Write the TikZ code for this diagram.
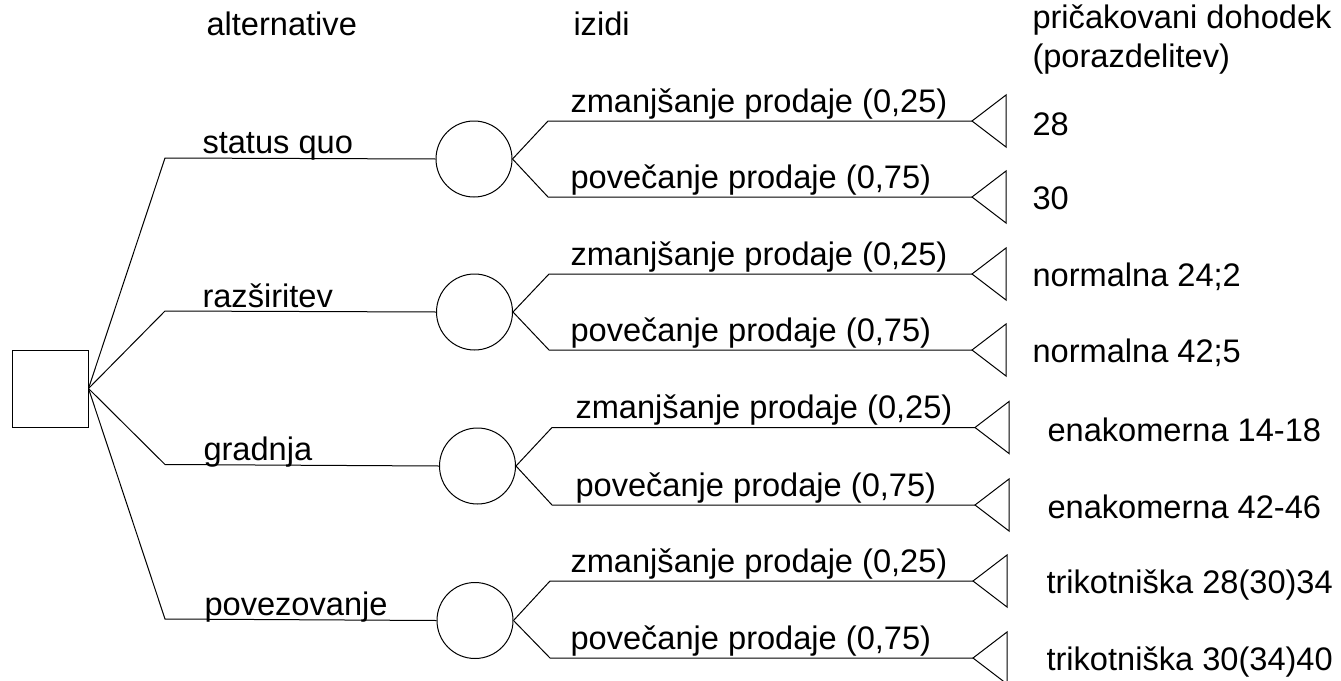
\documentclass[tikz,border=0pt]{standalone}
\usepackage{fontspec}
\setmainfont{Liberation Sans}
\begin{document}
\begin{tikzpicture}[x=1pt,y=-1pt,line width=1pt,
  lbl/.style={anchor=base west,inner sep=0pt,font=\fontsize{32.6}{37}\selectfont},
  decision/.style={draw,rectangle,minimum width=76pt,minimum height=77pt,inner sep=0pt},
  chance/.style={draw,circle,minimum size=76pt,inner sep=0pt},
  endtri/.pic={\draw (0,0) -- (34,-26) -- (34,26) -- cycle;}]
\useasboundingbox (0,0) rectangle (1341,680);

% column headers
\node[lbl] (halt) at (206,35) {alternative};
\node[lbl] (hizid) at (573,35) {izidi};
\node[lbl] (hdoh1) at (1032,28) {pričakovani dohodek};
\node[lbl] (hdoh2) at (1032,67) {(porazdelitev)};

% decision node
\node[decision] (d) at (50,388.5) {};

% chance nodes
\node[chance] (c1) at (474,159) {};
\node[chance] (c2) at (474.5,312) {};
\node[chance] (c3) at (477.5,466) {};
\node[chance] (c4) at (475,620.5) {};

% bends of the alternative branches
\coordinate (b1) at (165,158);
\coordinate (b2) at (165,311);
\coordinate (b3) at (165,464.5);
\coordinate (b4) at (165,619);

\draw (d.east) -- (b1) -- (c1.west);
\draw (d.east) -- (b2) -- (c2.west);
\draw (d.east) -- (b3) -- (c3.west);
\draw (d.east) -- (b4) -- (c4.west);

\node[lbl] (a1) at (202,153.5) {status quo};
\node[lbl] (a2) at (202,307) {razširitev};
\node[lbl] (a3) at (203,460.5) {gradnja};
\node[lbl] (a4) at (204,615) {povezovanje};

% outcome branches: bend points and end points
\coordinate (o1a) at (548,121);   \coordinate (e1a) at (972,121);
\coordinate (o1b) at (548,197);   \coordinate (e1b) at (972,197);
\coordinate (o2a) at (549,274);   \coordinate (e2a) at (972,274);
\coordinate (o2b) at (549,350);   \coordinate (e2b) at (972,350);
\coordinate (o3a) at (552,427.5); \coordinate (e3a) at (975,427.5);
\coordinate (o3b) at (552,505);   \coordinate (e3b) at (975,505);
\coordinate (o4a) at (550,581);   \coordinate (e4a) at (973,581);
\coordinate (o4b) at (550,658);   \coordinate (e4b) at (973,658);

\draw (c1.east) -- (o1a) -- (e1a);
\draw (c1.east) -- (o1b) -- (e1b);
\draw (c2.east) -- (o2a) -- (e2a);
\draw (c2.east) -- (o2b) -- (e2b);
\draw (c3.east) -- (o3a) -- (e3a);
\draw (c3.east) -- (o3b) -- (e3b);
\draw (c4.east) -- (o4a) -- (e4a);
\draw (c4.east) -- (o4b) -- (e4b);

% terminal triangles
\foreach \e in {e1a,e1b,e2a,e2b,e3a,e3b,e4a,e4b}
  \pic at (\e) {endtri};

% outcome labels
\node[lbl] (z1) at (570,112) {zmanjšanje prodaje (0,25)};
\node[lbl] (p1) at (570,188) {povečanje prodaje (0,75)};
\node[lbl] (z2) at (570,265) {zmanjšanje prodaje (0,25)};
\node[lbl] (p2) at (570,341) {povečanje prodaje (0,75)};
\node[lbl] (z3) at (575,418.5) {zmanjšanje prodaje (0,25)};
\node[lbl] (p3) at (575,496) {povečanje prodaje (0,75)};
\node[lbl] (z4) at (570,572) {zmanjšanje prodaje (0,25)};
\node[lbl] (p4) at (570,649) {povečanje prodaje (0,75)};

% expected income
\node[lbl] (r1a) at (1032,135) {28};
\node[lbl] (r1b) at (1032,209) {30};
\node[lbl] (r2a) at (1032,286) {normalna 24;2};
\node[lbl] (r2b) at (1032,362) {normalna 42;5};
\node[lbl] (r3a) at (1047,441.5) {enakomerna 14-18};
\node[lbl] (r3b) at (1047,518) {enakomerna 42-46};
\node[lbl] (r4a) at (1046,593) {trikotniška 28(30)34};
\node[lbl] (r4b) at (1046,670) {trikotniška 30(34)40};
\end{tikzpicture}
\end{document}
